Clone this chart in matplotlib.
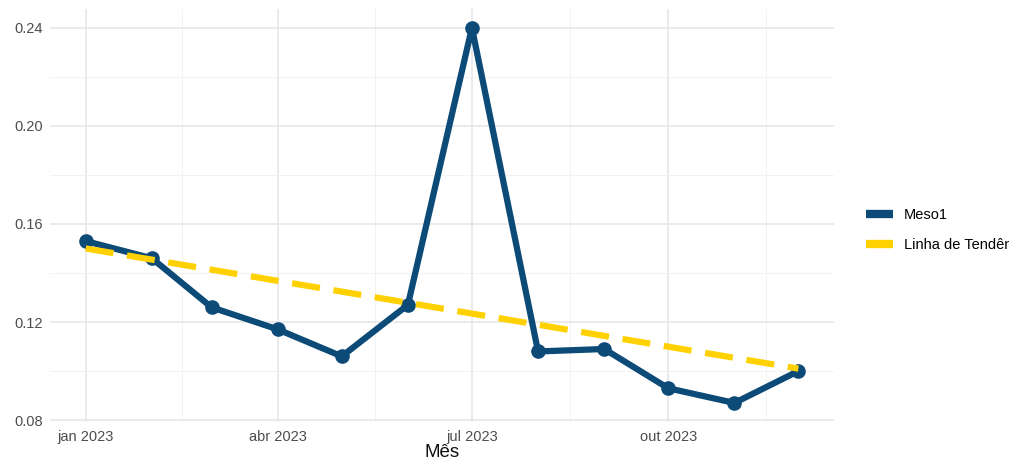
import numpy as np
import pandas as pd
import matplotlib
matplotlib.use("Agg")
import matplotlib.pyplot as plt
import matplotlib.dates as mdates
from matplotlib.lines import Line2D

# ---- dados ----
meses = pd.date_range("2023-01-01", "2023-12-01", freq="MS")
meso1 = [0.153, 0.146, 0.126, 0.117, 0.106, 0.127, 0.240, 0.108, 0.109, 0.093, 0.087, 0.100]
tendencia_ini = 0.150
tendencia_fim = 0.101
tick_datas = ["2023-01-01", "2023-04-01", "2023-07-01", "2023-10-01"]
tick_rotulos = ["jan 2023", "abr 2023", "jul 2023", "out 2023"]
y_ticks = [0.08, 0.12, 0.16, 0.20, 0.24]

cor_linha = "#0c4a77"
cor_tend = "#ffd100"

plt.rcParams["font.family"] = ["Liberation Sans", "DejaVu Sans"]

fig = plt.figure(figsize=(10.09, 4.65), dpi=100)
ax = fig.add_axes([0.0496, 0.0931, 0.777, 0.8875])

x = mdates.date2num(meses)
ax.plot(x, meso1, color=cor_linha, lw=4.5, marker="o", ms=9.5,
        solid_joinstyle="round", solid_capstyle="round", zorder=3)
ax.plot([x[0], x[-1]], [tendencia_ini, tendencia_fim], color=cor_tend, lw=4.5,
        dashes=(4.5, 2.2), zorder=4)

# limites com expansão de 5% como no ggplot
span_x = x[-1] - x[0]
ax.set_xlim(x[0] - 0.05 * span_x, x[-1] + 0.05 * span_x)
span_y = max(meso1) - min(meso1)
ax.set_ylim(min(meso1) - 0.05 * span_y, max(meso1) + 0.05 * span_y)

maj_x = mdates.date2num(pd.to_datetime(tick_datas))
ax.set_xticks(maj_x)
ax.set_xticklabels(tick_rotulos)
min_x = (maj_x[:-1] + maj_x[1:]) / 2
min_x = np.append(min_x, maj_x[-1] + (maj_x[-1] - maj_x[-2]) / 2)
ax.set_xticks(min_x, minor=True)

ax.set_yticks(y_ticks)
ax.set_yticklabels([f"{v:.2f}" for v in y_ticks])
ax.set_yticks([0.10, 0.14, 0.18, 0.22], minor=True)

ax.grid(which="major", color="#e6e6e6", lw=1.1)
ax.grid(which="minor", color="#f2f2f2", lw=0.7)
ax.set_axisbelow(True)
for s in ax.spines.values():
    s.set_visible(False)
ax.tick_params(which="both", length=0, labelsize=10.5, labelcolor="#4d4d4d", pad=5)
ax.tick_params(axis="x", pad=6)

ax.set_xlabel("Mês", fontsize=13.5, labelpad=0, color="#111111")

# legenda só com linhas (sem marcador); fica cortada na borda como no original
handles = [Line2D([], [], color=cor_linha, lw=6, solid_capstyle="butt"),
           Line2D([], [], color=cor_tend, lw=6, solid_capstyle="butt")]
fig.legend(handles, ["Meso1", "Linha de Tendência"], loc="center left",
           bbox_to_anchor=(0.852, 0.505), frameon=False,
           fontsize=10.5, handlelength=1.9, handletextpad=0.75, labelspacing=1.1,
           borderaxespad=0)

fig.savefig("out.png", dpi=100)
